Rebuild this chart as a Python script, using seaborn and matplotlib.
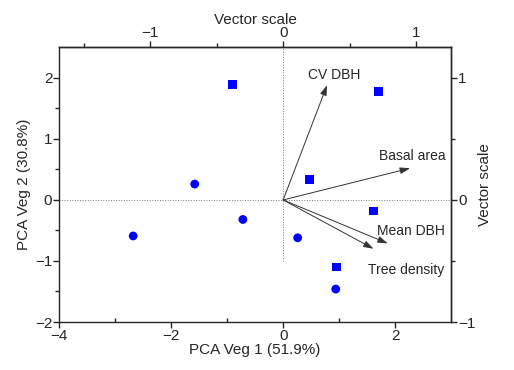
import matplotlib
matplotlib.use('Agg')
import matplotlib.pyplot as plt
import seaborn as sns
import pandas as pd

# Site scores (PCA Veg 1 / PCA Veg 2) and site group
pc1 = [-0.90, -1.58, -0.72, -2.68, 1.71, 0.47, 1.61, 0.26, 0.96, 0.94]
pc2 = [1.89, 0.26, -0.32, -0.59, 1.78, 0.33, -0.18, -0.62, -1.10, -1.46]
group = ['sq', 'ci', 'ci', 'ci', 'sq', 'sq', 'sq', 'ci', 'sq', 'ci']

# Variable loadings (vector scale)
var_names = ['CV DBH', 'Basal area', 'Mean DBH', 'Tree density']
load_x = [0.33, 0.955, 0.787, 0.68]
load_y = [0.94, 0.26, -0.356, -0.40]
# label anchor (left, centre) in score units
lab_x = [0.44, 1.71, 1.67, 1.51]
lab_y = [2.04, 0.72, -0.51, -1.15]

sx, sy = 2.375, 2.0  # vector scale -> score scale

df = pd.DataFrame({'pc1': pc1, 'pc2': pc2, 'group': group})

sns.set_style('ticks')
plt.rcParams['font.family'] = ['Liberation Sans', 'DejaVu Sans']
plt.rcParams['font.size'] = 11
plt.rcParams['axes.linewidth'] = 1.0

fig = plt.figure(figsize=(5.14, 3.7), dpi=100)
ax = fig.add_axes([0.1154, 0.1297, 0.7621, 0.7423])

ax.axhline(0, color='#777777', lw=0.7, ls=':', zorder=1)
ax.vlines(0, -1, 2.5, color='#777777', lw=0.7, ls=':', zorder=1)

sns.scatterplot(data=df, x='pc1', y='pc2', style='group',
                markers={'ci': 'o', 'sq': 's'}, color='#0000ff',
                s=40, edgecolor='none', legend=False, ax=ax, zorder=3)

for name, vx, vy, tx, ty in zip(var_names, load_x, load_y, lab_x, lab_y):
    ax.annotate('', xy=(vx * sx, vy * sy), xytext=(0, 0),
                arrowprops=dict(arrowstyle='-|>,head_length=0.55,head_width=0.18',
                                color='#333333', lw=0.7, shrinkA=0, shrinkB=0))
    ax.text(tx, ty, name, ha='left', va='center', fontsize=10)

ax.set_xlim(-4, 3)
ax.set_ylim(-2, 2.5)
ax.set_xticks([-4, -2, 0, 2])
ax.set_yticks([-2, -1, 0, 1, 2])
ax.set_xticks([-3, -1, 1], minor=True)
ax.set_yticks([-1.5, -0.5, 0.5, 1.5], minor=True)
ax.set_xticklabels(['\u22124', '\u22122', '0', '2'])
ax.set_yticklabels(['\u22122', '\u22121', '0', '1', '2'])
ax.tick_params(axis='both', which='major', direction='out', length=4, width=1, labelsize=11, pad=1)
ax.tick_params(axis='x', which='minor', direction='in', length=3, width=1)
ax.tick_params(axis='y', which='minor', direction='out', length=3, width=1)
ax.set_xlabel('PCA Veg 1 (51.9%)', fontsize=11, labelpad=0)
ax.set_ylabel('PCA Veg 2 (30.8%)', fontsize=11, labelpad=3)

top = ax.secondary_xaxis('top', functions=(lambda x: x / sx, lambda v: v * sx))
top.set_xticks([-1, 0, 1])
top.set_xticks([-1.5, -0.5, 0.5], minor=True)
top.set_xticklabels(['\u22121', '0', '1'])
top.tick_params(which='major', direction='out', length=4, width=1, labelsize=11, pad=1)
top.tick_params(which='minor', direction='out', length=3, width=1)
top.set_xlabel('Vector scale', fontsize=11, labelpad=2)

right = ax.secondary_yaxis('right', functions=(lambda y: y / sy, lambda v: v * sy))
right.set_yticks([-1, 0, 1])
right.set_yticks([-0.5, 0.5], minor=True)
right.set_yticklabels(['\u22121', '0', '1'])
right.tick_params(which='major', direction='out', length=4, width=1, labelsize=11, pad=1)
right.tick_params(which='minor', direction='out', length=3, width=1)
right.set_ylabel('Vector scale', fontsize=11, labelpad=2)

fig.savefig('out.png', dpi=100)
